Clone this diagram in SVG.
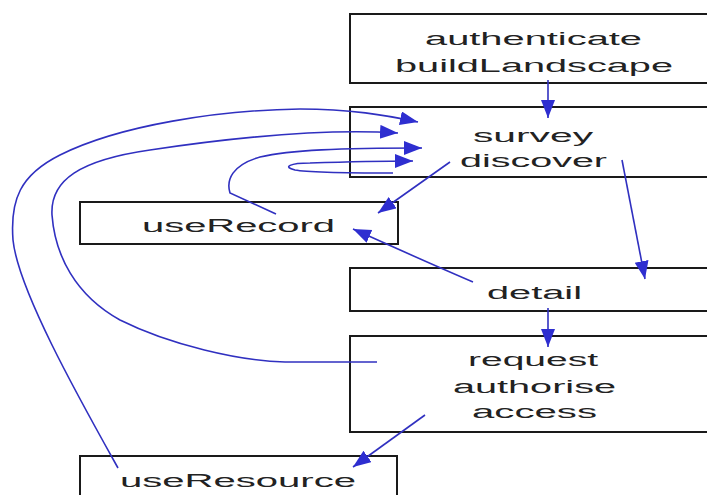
<svg xmlns="http://www.w3.org/2000/svg" width="707" height="495" viewBox="0 0 707 495">
<style>
.box{fill:#fff;stroke:#1a1a1a;stroke-width:2}
.t{font-family:"Liberation Sans",Arial,sans-serif;font-size:18px;fill:#222}
.c{fill:none;stroke:#3030c0;stroke-width:1.6;marker-end:url(#ah)}
</style>
<defs>
<marker id="ah" markerUnits="userSpaceOnUse" markerWidth="20" markerHeight="16" refX="18" refY="7" orient="auto">
<path d="M0,0 L18,7 L0,14 z" fill="#2e2ed0"/>
</marker>
</defs>
<rect width="707" height="495" fill="#fff"/>
<g id="authenticate">
<rect class="box" x="350" y="14" width="370" height="69"/>
<text class="t" x="425" y="45" textLength="217" lengthAdjust="spacingAndGlyphs">authenticate</text>
<text class="t" x="395" y="72" textLength="278" lengthAdjust="spacingAndGlyphs">buildLandscape</text>
</g>
<g id="survey">
<rect class="box" x="350" y="107" width="370" height="70"/>
<text class="t" x="473" y="142" textLength="120" lengthAdjust="spacingAndGlyphs">survey</text>
<text class="t" x="460" y="167" textLength="147" lengthAdjust="spacingAndGlyphs">discover</text>
</g>
<g id="useRecord">
<rect class="box" x="80" y="202" width="318" height="42"/>
<text class="t" x="142" y="232" textLength="193" lengthAdjust="spacingAndGlyphs">useRecord</text>
</g>
<g id="detail">
<rect class="box" x="350" y="268" width="370" height="43"/>
<text class="t" x="487" y="299" textLength="95" lengthAdjust="spacingAndGlyphs">detail</text>
</g>
<g id="request">
<rect class="box" x="350" y="336" width="370" height="96"/>
<text class="t" x="468" y="366" textLength="130" lengthAdjust="spacingAndGlyphs">request</text>
<text class="t" x="453" y="393" textLength="163" lengthAdjust="spacingAndGlyphs">authorise</text>
<text class="t" x="472" y="418" textLength="125" lengthAdjust="spacingAndGlyphs">access</text>
</g>
<g id="useResource">
<rect class="box" x="80" y="456" width="317" height="50"/>
<text class="t" x="120" y="487" textLength="236" lengthAdjust="spacingAndGlyphs">useResource</text>
</g>
<g id="connectors">
<path class="c" d="M548,80 L548,118"/>
<path class="c" d="M548,308 L548,347"/>
<path class="c" d="M622,160 L645,279"/>
<path class="c" d="M450,162 L378,213"/>
<path class="c" d="M425,415 L353,467"/>
<path class="c" d="M473,282 C440,268 400,250 353,229"/>
<path class="c" d="M118,468 C80,400 18,290 13,240 C10,200 20,175 60,155 C120,125 220,110 300,109 C350,109 385,115 418,122"/>
<path class="c" d="M377,362 L285,362 C240,361 170,345 120,320 C75,295 55,255 52,215 C50,180 80,160 150,150 C230,138 320,128 398,133"/>
<path class="c" d="M276,214 L230,193 C226,180 232,165 260,157 C290,150 340,148 422,148"/>
<path class="c" d="M393,173 C350,173 310,173 295,170 C282,167 290,163 310,163 C340,162 380,161 413,161"/>
</g>
</svg>
